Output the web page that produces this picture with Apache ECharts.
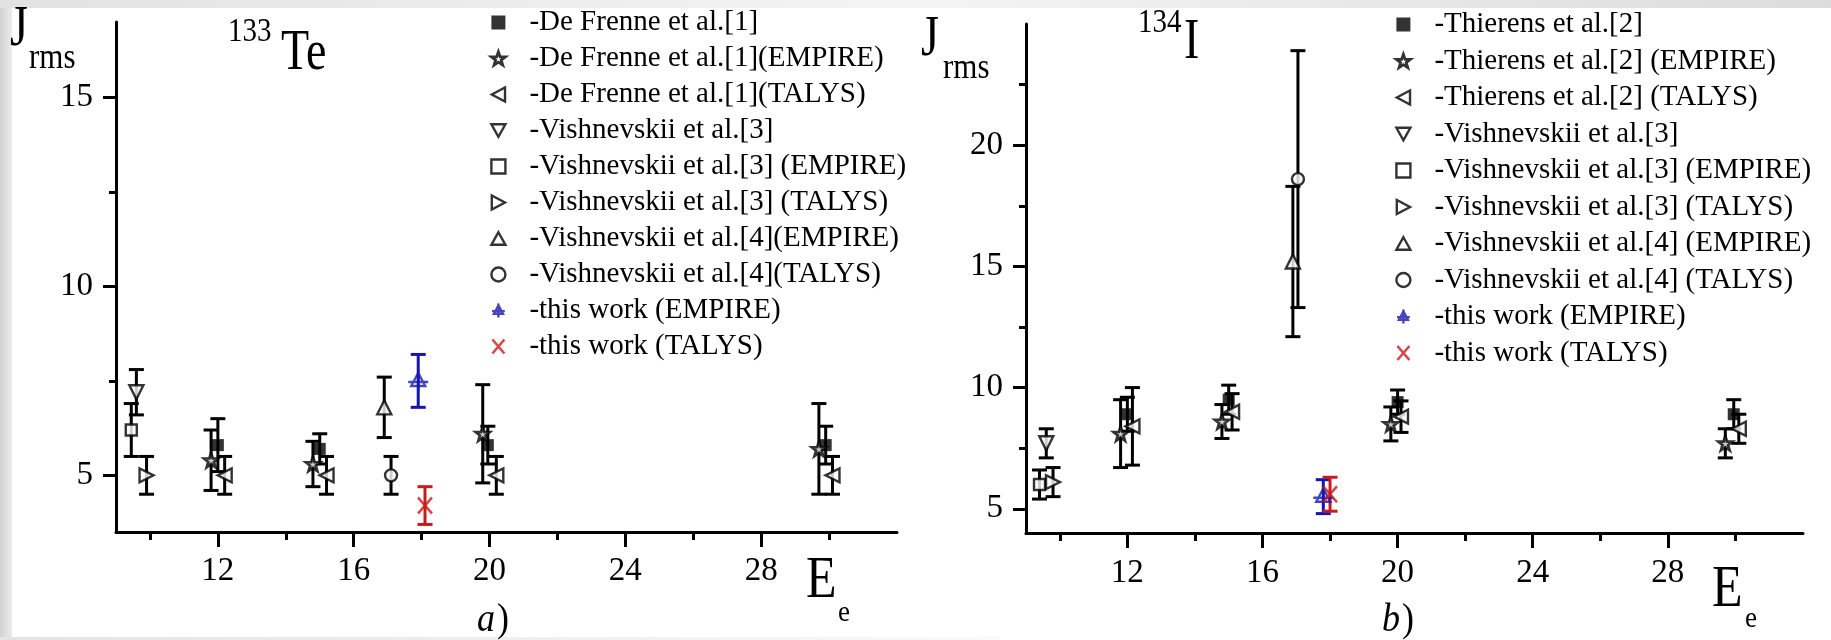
<!DOCTYPE html>
<html><head><meta charset="utf-8">
<script src="https://cdn.jsdelivr.net/npm/echarts@6/dist/echarts.min.js"></script>
<style>
html,body{margin:0;padding:0;width:1831px;height:640px;overflow:hidden;background:#fff;}
#bgL{position:absolute;left:0;top:0;width:12px;height:640px;background:linear-gradient(to right,#d2d2d2,#ececec);}
#bgT{position:absolute;left:0;top:0;width:1831px;height:8px;background:linear-gradient(to right,#e2e2e2,#f4f4f4 50%,#dcdcdc);}
#bgB{position:absolute;left:0;top:637px;width:1000px;height:3px;background:linear-gradient(to right,#e4e4e4,#fafafa);}
#c{position:absolute;left:0;top:0;width:1831px;height:640px;}
</style></head>
<body><div id="bgL"></div><div id="bgT"></div><div id="bgB"></div><div id="c"></div>
<script>
// ---------- Data: each point is [E_e, J_rms, error] ----------
// Panel a) 133Te
const teDeFrenne      = [[12.0, 5.8, 0.7], [15.0, 5.7, 0.4], [19.95, 5.8, 0.5], [29.9, 5.8, 0.5]];
const teDeFrenneEmp   = [[11.8, 5.4, 0.8], [14.8, 5.3, 0.6], [19.8, 6.1, 1.3], [29.7, 5.7, 1.2]];
const teDeFrenneTal   = [[12.2, 5.0, 0.5], [15.2, 5.0, 0.5], [20.2, 5.0, 0.5], [30.1, 5.0, 0.5]];
const teVish3         = [[9.6, 7.2, 0.6]];
const teVish3Emp      = [[9.45, 6.2, 0.7]];
const teVish3Tal      = [[9.9, 5.0, 0.5]];
const teVish4Emp      = [[16.9, 6.8, 0.8]];
const teVish4Tal      = [[17.1, 5.0, 0.5]];
const teThisEmp       = [[17.9, 7.5, 0.7]];
const teThisTal       = [[18.1, 4.2, 0.5]];
// Panel b) 134I
const iThierens       = [[12.0, 8.9, 0.7], [15.0, 9.5, 0.6], [20.0, 9.4, 0.5], [29.95, 8.9, 0.6]];
const iThierensEmp    = [[11.8, 8.1, 1.4], [14.8, 8.6, 0.7], [19.8, 8.5, 0.7], [29.7, 7.7, 0.6]];
const iThierensTal    = [[12.15, 8.4, 1.6], [15.1, 9.0, 0.75], [20.1, 8.8, 0.65], [30.1, 8.3, 0.6]];
const iVish3          = [[9.6, 7.7, 0.6]];
const iVish3Emp       = [[9.4, 6.0, 0.6]];
const iVish3Tal       = [[9.8, 6.1, 0.6]];
const iVish4Emp       = [[16.9, 15.2, 3.1]];
const iVish4Tal       = [[17.05, 18.6, 5.3]];
const iThisEmp        = [[17.8, 5.5, 0.7]];
const iThisTal        = [[18.0, 5.6, 0.7]];
// Axes / ticks
const xMajor = [12, 16, 20, 24, 28];
const xMinor = [10, 14, 18, 22, 26, 30];
const yMajorA = [5, 10, 15];
const yMinorA = [7.5, 12.5];
const yMajorB = [5, 10, 15, 20];
const yMinorB = [7.5, 12.5, 17.5, 22.5];

// ---------- Styles ----------
const FONT = '"Liberation Serif", "Times New Roman", serif';
const BLUE = '#1616ae', RED = '#c81c1c', BLK = '#000';
const SYM = {
  fsq: 'rect',
  star: 'path://M0,-10L2.35,-3.24L9.51,-3.09L3.8,1.24L5.88,8.09L0,4L-5.88,8.09L-3.8,1.24L-9.51,-3.09L-2.35,-3.24Z',
  left: 'path://M-9,0L8,-9L8,9Z',
  right: 'path://M9,0L-8,-9L-8,9Z',
  down: 'path://M-9,-8L9,-8L0,8Z',
  up: 'path://M0,-8L9,8L-9,8Z',
  sq: 'rect',
  circ: 'circle',
  thisEmp: 'path://M0,-8L7,5L-7,5Z M-10,1L10,1 M0,-11L0,11',
  cross: 'path://M-6,-7L6,7M-6,7L6,-7'
};
const ST = {
  fill: {color: BLK, borderWidth: 0},
  hollow: {color: '#fff', borderColor: BLK, borderWidth: 2.4},
  starS: {color: '#fff', borderColor: BLK, borderWidth: 2.8},
  blue: {color: 'rgba(0,0,0,0)', borderColor: BLUE, borderWidth: 2.4},
  red: {color: 'rgba(0,0,0,0)', borderColor: RED, borderWidth: 2.6}
};

const panelA = [
  {name: '-De Frenne et al.[1]', data: teDeFrenne, sym: 'fsq', size: 12, st: 'fill', c: BLK},
  {name: '-De Frenne et al.[1](EMPIRE)', data: teDeFrenneEmp, sym: 'star', size: 14, st: 'starS', c: BLK},
  {name: '-De Frenne et al.[1](TALYS)', data: teDeFrenneTal, sym: 'left', size: 14, st: 'hollow', c: BLK},
  {name: '-Vishnevskii et al.[3]', data: teVish3, sym: 'down', size: 14, st: 'hollow', c: BLK},
  {name: '-Vishnevskii et al.[3] (EMPIRE)', data: teVish3Emp, sym: 'sq', size: 11, st: 'hollow', c: BLK},
  {name: '-Vishnevskii et al.[3] (TALYS)', data: teVish3Tal, sym: 'right', size: 14, st: 'hollow', c: BLK},
  {name: '-Vishnevskii et al.[4](EMPIRE)', data: teVish4Emp, sym: 'up', size: 14, st: 'hollow', c: BLK},
  {name: '-Vishnevskii et al.[4](TALYS)', data: teVish4Tal, sym: 'circ', size: 12, st: 'hollow', c: BLK},
  {name: '-this work (EMPIRE)', data: teThisEmp, sym: 'thisEmp', size: [20, 22], st: 'blue', c: BLUE},
  {name: '-this work (TALYS)', data: teThisTal, sym: 'cross', size: [14, 16], st: 'red', c: RED}
];
const panelB = [
  {name: '-Thierens et al.[2]', data: iThierens, sym: 'fsq', size: 12, st: 'fill', c: BLK},
  {name: '-Thierens et al.[2] (EMPIRE)', data: iThierensEmp, sym: 'star', size: 14, st: 'starS', c: BLK},
  {name: '-Thierens et al.[2] (TALYS)', data: iThierensTal, sym: 'left', size: 14, st: 'hollow', c: BLK},
  {name: '-Vishnevskii et al.[3]', data: iVish3, sym: 'down', size: 14, st: 'hollow', c: BLK},
  {name: '-Vishnevskii et al.[3] (EMPIRE)', data: iVish3Emp, sym: 'sq', size: 11, st: 'hollow', c: BLK},
  {name: '-Vishnevskii et al.[3] (TALYS)', data: iVish3Tal, sym: 'right', size: 14, st: 'hollow', c: BLK},
  {name: '-Vishnevskii et al.[4] (EMPIRE)', data: iVish4Emp, sym: 'up', size: 14, st: 'hollow', c: BLK},
  {name: '-Vishnevskii et al.[4] (TALYS)', data: iVish4Tal, sym: 'circ', size: 12, st: 'hollow', c: BLK},
  {name: '-this work (EMPIRE)', data: iThisEmp, sym: 'thisEmp', size: [20, 22], st: 'blue', c: BLUE},
  {name: '-this work (TALYS)', data: iThisTal, sym: 'cross', size: [14, 16], st: 'red', c: RED}
];

// ---------- Axes ----------
function axis(kind, grid, min, max, vals, len, showLabels, margin) {
  return {
    type: 'value', gridIndex: grid, min: min, max: max,
    position: kind === 'x' ? 'bottom' : 'left', offset: 0,
    axisLine: {show: showLabels, onZero: false, lineStyle: {color: BLK, width: 3}},
    axisTick: {show: true, inside: false, length: len, customValues: vals, lineStyle: {color: BLK, width: 3}},
    axisLabel: showLabels ? {show: true, customValues: vals, margin: margin, fontFamily: FONT, fontSize: 33, color: BLK}
                          : {show: false},
    splitLine: {show: false}, minorTick: {show: false}
  };
}

// ---------- Series ----------
function errRender(color) {
  return function (params, api) {
    const x = api.value(0), y = api.value(1), e = api.value(2);
    const t = api.coord([x, y + e]), b = api.coord([x, y - e]);
    const hw = 7.5, ls = {stroke: color, lineWidth: 3};
    return {type: 'group', children: [
      {type: 'line', shape: {x1: t[0], y1: t[1], x2: b[0], y2: b[1]}, style: ls},
      {type: 'line', shape: {x1: t[0] - hw, y1: t[1], x2: t[0] + hw, y2: t[1]}, style: ls},
      {type: 'line', shape: {x1: b[0] - hw, y1: b[1], x2: b[0] + hw, y2: b[1]}, style: ls}
    ]};
  };
}
const scatterSeries = [], errSeries = [];
[[panelA, 0], [panelB, 1]].forEach(function (pg) {
  pg[0].forEach(function (s) {
    scatterSeries.push({
      type: 'scatter', name: s.name, xAxisIndex: pg[1] * 2, yAxisIndex: pg[1] * 2,
      data: s.data.map(function (d) { return [d[0], d[1]]; }),
      symbol: SYM[s.sym], symbolSize: s.size, symbolKeepAspect: false,
      itemStyle: Object.assign({}, ST[s.st]), z: 3, emphasis: {disabled: true}
    });
    errSeries.push({
      type: 'custom', name: s.name, xAxisIndex: pg[1] * 2, yAxisIndex: pg[1] * 2,
      data: s.data, encode: {x: 0, y: 1}, renderItem: errRender(s.c), z: 2, silent: true
    });
  });
});

function legendFor(panel, left, top, gap) {
  return {
    orient: 'vertical', left: left, top: top, padding: 0, itemGap: gap,
    itemWidth: 14, itemHeight: 14, selectedMode: false,
    textStyle: {fontFamily: FONT, fontSize: 29, color: BLK, lineHeight: 29, rich: {p: {width: 19, fontSize: 29}}},
    formatter: function (n) { return '{p| }' + n; },
    data: panel.map(function (s) {
      return {name: s.name, icon: SYM[s.sym], itemStyle: Object.assign({}, ST[s.st])};
    })
  };
}

// text label; sy = vertical stretch applied through a wrapping group
function txt(x, y, text, size, sy, italic) {
  return {
    type: 'group', x: x, y: y, scaleX: 1, scaleY: sy || 1, silent: true, z: 10,
    children: [{
      type: 'text', x: 0, y: 0, silent: true, z: 10,
      style: {text: text, font: (italic ? 'italic ' : '') + size + 'px ' + FONT,
              fill: BLK, align: 'left', verticalAlign: 'middle'}
    }]
  };
}

const option = {
  animation: false,
  backgroundColor: 'transparent',
  grid: [
    {left: 116, top: 22, width: 781, height: 510},
    {left: 1026, top: 24, width: 777, height: 509}
  ],
  xAxis: [
    axis('x', 0, 9, 32, xMajor, 15, true, 23),
    axis('x', 0, 9, 32, xMinor, 8, false, 0),
    axis('x', 1, 9, 32, xMajor, 15, true, 24),
    axis('x', 1, 9, 32, xMinor, 8, false, 0)
  ],
  yAxis: [
    axis('y', 0, 3.5, 17, yMajorA, 13, true, 23),
    axis('y', 0, 3.5, 17, yMinorA, 7, false, 0),
    axis('y', 1, 4, 25, yMajorB, 13, true, 23),
    axis('y', 1, 4, 25, yMinorB, 7, false, 0)
  ],
  legend: [legendFor(panelA, 490, 8, 7), legendFor(panelB, 1395, 10, 7.5)],
  graphic: [
    txt(10, 30, 'J', 46, 1.25),
    txt(29, 59, 'rms', 31, 1.15),
    txt(228, 32, '133', 29, 1.15),
    txt(281, 53.5, 'Te', 46, 1.25),
    txt(806, 581.5, 'E', 50, 1.2),
    txt(838, 613, 'e', 27, 1.1),
    txt(477, 621, 'a', 36, 1.1, true),
    txt(497, 621, ')', 36, 1.1),
    txt(921, 40, 'J', 46, 1.25),
    txt(943, 69, 'rms', 31, 1.15),
    txt(1138, 23.5, '134', 29, 1.15),
    txt(1184, 42.5, 'I', 46, 1.25),
    txt(1712, 590, 'E', 50, 1.2),
    txt(1745, 619, 'e', 27, 1.1),
    txt(1382, 621, 'b', 36, 1.1, true),
    txt(1402, 621, ')', 36, 1.1)
  ],
  series: scatterSeries.concat(errSeries)
};
const chart = echarts.init(document.getElementById('c'), null, {renderer: 'canvas'});
chart.setOption(option);
</script>
</body></html>
